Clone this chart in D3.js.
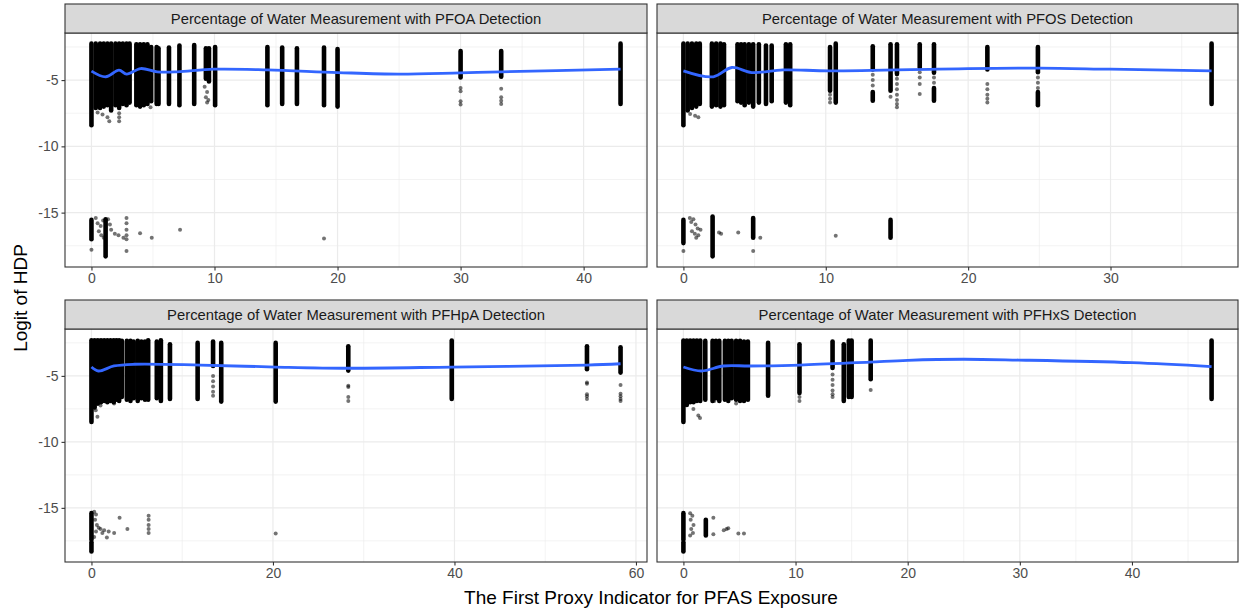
<!DOCTYPE html>
<html>
<head>
<meta charset="utf-8">
<script src="https://cdn.jsdelivr.net/npm/d3@7/dist/d3.min.js"></script>
<style>
  body { margin: 0; background: #fff; }
  text { font-family: "Liberation Sans", Arial, Helvetica, sans-serif; }
</style>
</head>
<body>
<svg id="chart" width="1239" height="613"></svg>
<script>
// facet titles
var facetTitles = [
	"Percentage of Water Measurement with PFOA Detection",
	"Percentage of Water Measurement with PFOS Detection",
	"Percentage of Water Measurement with PFHpA Detection",
	"Percentage of Water Measurement with PFHxS Detection"
];

var xTitle = "The First Proxy Indicator for PFAS Exposure";
var yTitle = "Logit of HDP";

// tick labels
var yTicks = [-15, -10, -5];
var pfoaTicks = [0, 10, 20, 30, 40];
var pfosTicks = [0, 10, 20, 30];
var pfhpaTicks = [0, 20, 40, 60];
var pfhxsTicks = [0, 10, 20, 30, 40];

// dense columns of points: [x, top, bottom]
var pfoaStripes = [
	[0, -2.25, -8.4], [0.35, -2.25, -7.1], [0.7, -2.25, -7.1], [1.0, -2.25, -7.0], [1.3, -2.25, -6.9],
	[1.6, -2.25, -7.3], [1.95, -2.25, -6.9], [2.25, -2.25, -7.1], [2.55, -2.25, -6.8], [2.85, -2.25, -6.9],
	[3.1, -2.25, -6.7], [3.65, -2.3, -6.9], [3.95, -2.3, -7.0], [4.25, -2.3, -6.9], [4.55, -2.3, -6.8],
	[4.85, -2.5, -6.6], [5.3, -2.5, -6.8], [5.45, -2.6, -6.8], [6.3, -2.55, -6.8], [7.15, -2.4, -6.9],
	[8.35, -2.35, -6.8], [9.3, -2.6, -4.9], [9.55, -2.6, -5.1], [10.05, -2.5, -6.9],
	[14.3, -2.5, -6.9], [15.5, -2.55, -6.8], [16.7, -2.6, -6.8], [18.9, -2.55, -6.9], [20.0, -2.65, -7.0],
	[30.0, -2.8, -4.8], [33.3, -2.8, -4.75], [43.0, -2.25, -6.8],
	[0, -15.55, -17.0], [1.15, -15.5, -18.3]
];
var pfoaDots = [
	[0.5, -7.45], [0.9, -7.6], [1.3, -7.8], [1.45, -8.1], [2.25, -7.5], [2.25, -7.8], [2.25, -8.1], [4.8, -7.05],
	[9.2, -5.5], [9.4, -5.9], [9.3, -6.3], [9.5, -6.5], [9.4, -6.7],
	[30.0, -5.6], [30.0, -5.85], [30.0, -6.6], [30.0, -6.85], [33.3, -5.65], [33.3, -6.3], [33.3, -6.55], [33.3, -6.8],
	[0, -17.8], [0.35, -15.4], [0.5, -15.8], [0.6, -16.4], [0.75, -16.0], [0.8, -16.7], [0.95, -15.6], [1.0, -16.9],
	[1.35, -15.5], [1.5, -15.9], [1.6, -16.3], [1.9, -16.6], [2.2, -16.7], [2.6, -16.9], [2.85, -15.4], [2.85, -15.8],
	[2.85, -16.3], [2.85, -16.7], [2.85, -17.0], [2.85, -17.9], [3.95, -16.55], [4.9, -16.9], [7.2, -16.3], [18.9, -16.95]
];
var pfoaSmooth = [
	[0, -4.32], [1.16, -4.75], [2.24, -4.25], [2.86, -4.55], [4.0, -4.13], [5.35, -4.38], [6.97, -4.38],
	[9.94, -4.18], [14.3, -4.23], [20.0, -4.43], [25.0, -4.55], [30.0, -4.45], [33.3, -4.38], [43.0, -4.18]
];

var pfosStripes = [
	[0, -2.25, -8.4], [0.3, -2.25, -7.3], [0.6, -2.25, -7.1], [0.9, -2.25, -7.0], [1.15, -2.25, -6.8],
	[2.0, -2.25, -7.0], [2.3, -2.25, -6.9], [2.6, -2.25, -7.0], [2.85, -2.3, -6.9],
	[3.8, -2.3, -6.6], [4.05, -2.3, -6.7], [4.3, -2.3, -6.9], [4.6, -2.3, -6.7], [4.9, -2.3, -7.0],
	[5.3, -2.3, -6.7], [5.8, -2.4, -6.8], [6.2, -2.4, -6.6], [7.2, -2.3, -6.7], [7.5, -2.3, -6.9],
	[10.3, -2.5, -5.8], [10.7, -2.25, -6.7], [13.3, -2.45, -4.2], [13.3, -5.9, -6.55], [14.55, -2.3, -5.8],
	[15.0, -2.3, -4.55], [16.6, -2.3, -4.05], [17.6, -2.3, -4.45], [17.6, -5.6, -6.55], [21.35, -2.5, -4.2],
	[24.9, -2.5, -4.4], [24.9, -5.9, -6.9], [37.1, -2.25, -6.8],
	[0, -15.55, -17.3], [2.05, -15.3, -18.3], [4.9, -15.4, -16.9], [14.55, -15.55, -16.9]
];
var pfosDots = [
	[0.47, -7.55], [0.82, -7.7], [1.05, -7.8],
	[10.3, -6.1], [10.3, -6.4], [10.3, -6.7], [13.3, -4.6], [13.3, -5.0], [13.3, -5.4], [14.55, -6.25],
	[15.0, -4.9], [15.0, -5.3], [15.0, -5.7], [15.0, -6.1], [15.0, -6.5], [15.0, -6.8], [15.0, -7.05],
	[16.6, -4.4], [16.6, -4.8], [16.6, -5.3], [16.6, -6.05], [17.6, -4.8], [17.6, -5.2],
	[21.35, -5.3], [21.35, -5.7], [21.35, -6.1], [21.35, -6.4], [21.35, -6.7], [24.9, -4.8], [24.9, -5.2], [24.9, -5.6],
	[0, -17.9], [0.45, -15.4], [0.55, -15.7], [0.7, -15.5], [0.85, -15.9], [1.0, -16.2], [0.6, -16.4], [0.8, -16.6],
	[1.05, -16.7], [1.2, -16.3], [0.9, -16.9], [2.5, -16.5], [2.65, -16.6], [3.85, -16.5], [5.4, -16.9], [4.9, -17.9],
	[10.7, -16.75]
];
var pfosSmooth = [
	[0, -4.3], [2.1, -4.75], [3.4, -4.05], [4.8, -4.43], [7.0, -4.23], [10.3, -4.3],
	[20.0, -4.13], [25.0, -4.1], [30.0, -4.18], [37.1, -4.3]
];

var pfhpaStripes = [
	[0, -2.3, -8.5], [0.35, -2.3, -7.4], [0.7, -2.3, -7.1], [1.05, -2.3, -7.0], [1.4, -2.3, -6.9],
	[1.75, -2.3, -7.0], [2.1, -2.3, -6.9], [2.45, -2.3, -7.0], [2.75, -2.3, -6.8],
	[3.05, -2.3, -6.9], [3.35, -2.35, -6.6], [3.9, -2.35, -6.8], [4.3, -2.35, -6.9], [4.65, -2.4, -6.7],
	[5.1, -2.35, -6.9], [5.5, -2.4, -6.7], [5.9, -2.4, -6.8], [6.25, -2.3, -6.8], [7.2, -2.4, -6.7],
	[7.65, -2.3, -6.9], [8.65, -2.6, -6.75], [11.7, -2.5, -6.75], [13.4, -2.4, -4.25], [14.3, -2.5, -6.95],
	[20.3, -2.5, -6.95], [28.3, -2.75, -4.6], [39.7, -2.32, -6.75], [54.6, -2.75, -4.5], [58.3, -2.83, -4.75],
	[0, -15.4, -17.4], [0, -17.6, -18.3]
];
var pfhpaDots = [
	[0.47, -7.6], [0.66, -8.1], [1.0, -7.25], [2.5, -7.1],
	[13.4, -5.0], [13.4, -5.4], [13.4, -5.8], [13.4, -6.2], [13.4, -6.5],
	[28.3, -5.75], [28.3, -5.85], [28.3, -6.6], [28.3, -6.9],
	[54.6, -5.5], [54.6, -5.6], [54.6, -6.4], [54.6, -6.55], [54.6, -6.75],
	[58.3, -5.7], [58.3, -6.35], [58.3, -6.55], [58.3, -6.75], [58.3, -6.9],
	[0.3, -15.3], [0.5, -15.5], [0.4, -15.9], [0.6, -16.3], [0.8, -16.5], [0.5, -16.8], [0.3, -17.2],
	[1.0, -16.6], [1.2, -16.9], [1.4, -16.7], [1.7, -17.25], [1.9, -16.8], [2.5, -16.9], [3.1, -15.75],
	[3.96, -16.6], [6.3, -15.6], [6.3, -15.9], [6.3, -16.3], [6.3, -16.6], [6.3, -16.9], [20.3, -16.95]
];
var pfhpaSmooth = [
	[0, -4.33], [0.77, -4.63], [2.49, -4.25], [4.69, -4.12], [12.0, -4.18], [20.3, -4.33],
	[28.3, -4.42], [39.7, -4.33], [54.6, -4.18], [58.3, -4.08]
];

var pfhxsStripes = [
	[0, -2.32, -8.5], [0.3, -2.32, -7.2], [0.6, -2.32, -7.0], [0.9, -2.32, -7.0], [1.2, -2.32, -6.9],
	[1.5, -2.32, -6.9], [1.95, -2.35, -6.8], [2.6, -2.35, -6.9], [2.9, -2.35, -6.7], [3.2, -2.35, -6.9],
	[3.7, -2.35, -6.8], [4.0, -2.35, -6.9], [4.3, -2.35, -6.7], [4.7, -2.35, -6.8], [5.05, -2.35, -6.9],
	[5.4, -2.4, -6.9], [5.75, -2.4, -6.8], [7.55, -2.5, -6.5], [10.35, -2.6, -6.3], [13.3, -2.4, -4.4],
	[14.3, -2.6, -6.9], [14.75, -2.32, -6.6], [15.0, -2.32, -6.6], [16.7, -2.32, -5.25], [47.1, -2.32, -6.75],
	[0, -15.4, -17.4], [0, -17.6, -18.3], [2.0, -15.9, -17.1]
];
var pfhxsDots = [
	[0.89, -7.5], [1.33, -8.0], [1.48, -8.2], [2.76, -6.9], [4.7, -7.1],
	[10.35, -6.6], [10.35, -6.9], [13.3, -4.9], [13.3, -5.3], [13.3, -5.7], [13.3, -6.1], [13.3, -6.4], [13.3, -6.6],
	[16.7, -6.07],
	[0.6, -15.4], [0.8, -15.6], [0.65, -15.9], [0.9, -16.3], [0.7, -16.6], [0.85, -16.9], [0.6, -17.1],
	[2.67, -15.75], [2.67, -17.0], [3.6, -16.7], [3.85, -16.6], [4.0, -16.55], [4.9, -16.95], [5.4, -16.95]
];
var pfhxsSmooth = [
	[0, -4.33], [1.63, -4.63], [3.56, -4.25], [5.93, -4.25], [10.4, -4.18], [16.6, -3.95],
	[20.0, -3.82], [24.9, -3.74], [29.9, -3.8], [40.0, -4.0], [47.1, -4.3]
];

var svg = d3.select('#chart');

var panels = [
	{ title: facetTitles[0], stripes: pfoaStripes, dots: pfoaDots, smooth: pfoaSmooth, ticks: pfoaTicks, left: 65, right: 647, top: 33, bottom: 267, yAxis: true },
	{ title: facetTitles[1], stripes: pfosStripes, dots: pfosDots, smooth: pfosSmooth, ticks: pfosTicks, left: 657, right: 1238, top: 33, bottom: 267, yAxis: false },
	{ title: facetTitles[2], stripes: pfhpaStripes, dots: pfhpaDots, smooth: pfhpaSmooth, ticks: pfhpaTicks, left: 65, right: 647, top: 329, bottom: 562, yAxis: true },
	{ title: facetTitles[3], stripes: pfhxsStripes, dots: pfhxsDots, smooth: pfhxsSmooth, ticks: pfhxsTicks, left: 657, right: 1238, top: 329, bottom: 562, yAxis: false }
];

// shared y range over every panel
var allY = [];
panels.forEach(function(p) {
	p.stripes.forEach(function(s) { allY.push(s[1], s[2]); });
	p.dots.forEach(function(d) { allY.push(d[1]); });
});
var yMin = d3.min(allY), yMax = d3.max(allY);
var yPad = (yMax - yMin) * 0.05;

var STRIP = 29;
var hyphen = function(d) { return String(d); }; // ggplot uses a plain hyphen, not d3's minus sign

panels.forEach(function(p) {
	var xs = [];
	p.stripes.forEach(function(s) { xs.push(s[0]); });
	p.dots.forEach(function(d) { xs.push(d[0]); });
	var xMin = d3.min(xs), xMax = d3.max(xs);
	var xPad = (xMax - xMin) * 0.05;

	var x = d3.scaleLinear().domain([xMin - xPad, xMax + xPad]).range([p.left, p.right]);
	var y = d3.scaleLinear().domain([yMin - yPad, yMax + yPad]).range([p.bottom, p.top]);

	var g = svg.append('g');

	g.append('rect')
		.attr('x', p.left).attr('y', p.top)
		.attr('width', p.right - p.left).attr('height', p.bottom - p.top)
		.style('fill', '#fff');

	// minor grid
	var xMinor = [];
	for (var i = 0; i < p.ticks.length - 1; i++) xMinor.push((p.ticks[i] + p.ticks[i + 1]) / 2);
	xMinor.push(p.ticks[p.ticks.length - 1] + (p.ticks[1] - p.ticks[0]) / 2);
	xMinor = xMinor.filter(function(v) { return v > x.domain()[0] && v < x.domain()[1]; });
	var yMinor = [-17.5, -12.5, -7.5, -2.5].filter(function(v) { return v > y.domain()[0] && v < y.domain()[1]; });

	g.selectAll('.xminor').data(xMinor).enter().append('line')
		.attr('x1', function(d) { return x(d); }).attr('x2', function(d) { return x(d); })
		.attr('y1', p.top).attr('y2', p.bottom)
		.style('stroke', '#ebebeb').style('stroke-width', 0.6);
	g.selectAll('.yminor').data(yMinor).enter().append('line')
		.attr('x1', p.left).attr('x2', p.right)
		.attr('y1', function(d) { return y(d); }).attr('y2', function(d) { return y(d); })
		.style('stroke', '#ebebeb').style('stroke-width', 0.6);

	// major grid
	g.selectAll('.xmajor').data(p.ticks).enter().append('line')
		.attr('x1', function(d) { return x(d); }).attr('x2', function(d) { return x(d); })
		.attr('y1', p.top).attr('y2', p.bottom)
		.style('stroke', '#ebebeb').style('stroke-width', 1.2);
	g.selectAll('.ymajor').data(yTicks).enter().append('line')
		.attr('x1', p.left).attr('x2', p.right)
		.attr('y1', function(d) { return y(d); }).attr('y2', function(d) { return y(d); })
		.style('stroke', '#ebebeb').style('stroke-width', 1.2);

	// dense point columns
	g.selectAll('.stripe').data(p.stripes).enter().append('line')
		.attr('x1', function(d) { return x(d[0]); }).attr('x2', function(d) { return x(d[0]); })
		.attr('y1', function(d) { return y(d[1]); }).attr('y2', function(d) { return y(d[2]); })
		.style('stroke', '#000').style('stroke-width', 4.6)
		.style('stroke-linecap', 'round');

	// single points
	g.selectAll('.dot').data(p.dots).enter().append('circle')
		.attr('cx', function(d) { return x(d[0]); })
		.attr('cy', function(d) { return y(d[1]); })
		.attr('r', 2)
		.style('fill', '#000').style('opacity', 0.55);

	// smoother
	g.append('path')
		.datum(p.smooth)
		.attr('d', d3.line()
			.x(function(d) { return x(d[0]); })
			.y(function(d) { return y(d[1]); })
			.curve(d3.curveCatmullRom.alpha(0.5)))
		.style('fill', 'none').style('stroke', '#3366FF').style('stroke-width', 2.8);

	// panel border
	g.append('rect')
		.attr('x', p.left).attr('y', p.top)
		.attr('width', p.right - p.left).attr('height', p.bottom - p.top)
		.style('fill', 'none').style('stroke', '#333').style('stroke-width', 1.1);

	// strip
	g.append('rect')
		.attr('x', p.left).attr('y', p.top - STRIP)
		.attr('width', p.right - p.left).attr('height', STRIP)
		.style('fill', '#d9d9d9').style('stroke', '#333').style('stroke-width', 1.1);
	g.append('text')
		.attr('x', (p.left + p.right) / 2).attr('y', p.top - STRIP / 2)
		.attr('dy', '0.36em')
		.attr('text-anchor', 'middle')
		.style('font-size', '14.8px').style('fill', '#1a1a1a')
		.text(p.title);

	// x axis
	var xAxis = g.append('g')
		.attr('transform', 'translate(0,' + p.bottom + ')')
		.call(d3.axisBottom(x).tickValues(p.ticks).tickSize(3.5).tickPadding(3).tickFormat(hyphen));
	xAxis.select('.domain').remove();
	xAxis.selectAll('line').style('stroke', '#333').style('stroke-width', 1.1);
	xAxis.selectAll('text').style('font-size', '14px').style('fill', '#4d4d4d')
		.style('font-family', '"Liberation Sans", Arial, sans-serif');

	if (p.yAxis) {
		var yAxis = g.append('g')
			.attr('transform', 'translate(' + p.left + ',0)')
			.call(d3.axisLeft(y).tickValues(yTicks).tickSize(3.5).tickPadding(3).tickFormat(hyphen));
		yAxis.select('.domain').remove();
		yAxis.selectAll('line').style('stroke', '#333').style('stroke-width', 1.1);
		yAxis.selectAll('text').style('font-size', '14px').style('fill', '#4d4d4d')
			.style('font-family', '"Liberation Sans", Arial, sans-serif');
	}
});

// axis titles
svg.append('text')
	.attr('x', 651).attr('y', 597).attr('dy', '0.36em')
	.attr('text-anchor', 'middle')
	.style('font-size', '19px').style('fill', '#000')
	.text(xTitle);

svg.append('text')
	.attr('transform', 'translate(20,298) rotate(-90)')
	.attr('dy', '0.36em')
	.attr('text-anchor', 'middle')
	.style('font-size', '19px').style('fill', '#000')
	.text(yTitle);
</script>
</body>
</html>
